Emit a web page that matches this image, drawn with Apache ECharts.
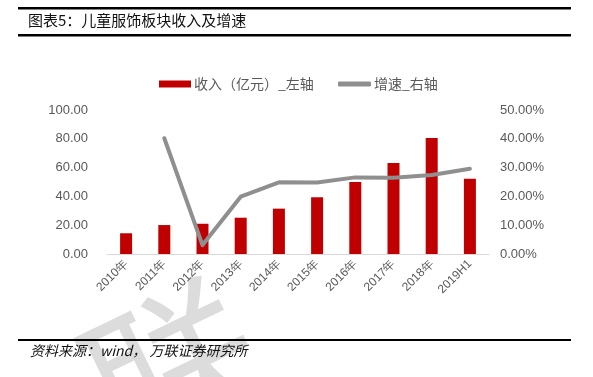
<!DOCTYPE html>
<html>
<head>
<meta charset="utf-8">
<script src="https://cdn.jsdelivr.net/npm/echarts@6/dist/echarts.min.js"></script>
<style>
  html, body { margin: 0; padding: 0; background: #fff; }
  #main { width: 593px; height: 377px; }
</style>
</head>
<body>
<div id="main"></div>
<script>
// 类目
const years = ['2010年', '2011年', '2012年', '2013年', '2014年', '2015年', '2016年', '2017年', '2018年', '2019H1']
// 收入（亿元）
const revenue = [14.4, 20.1, 21.0, 25.2, 31.5, 39.4, 50.0, 63.2, 80.5, 52.3]
// 增速 %
const growth = [null, 40.2, 3.1, 19.9, 24.9, 24.8, 26.6, 26.5, 27.4, 29.6]

const barName = '收入（亿元）_左轴'
const lineName = '增速_右轴'

const cjk = '"Noto Sans CJK SC", sans-serif'
const latin = '"Liberation Sans", Arial, sans-serif'

const chart = echarts.init(document.getElementById('main'), null, { renderer: 'canvas' })

const option = {
  backgroundColor: '#fff',
  animation: false,
  graphic: [
    // 水印
    {
      type: 'text', left: 60, top: 255, rotation: 0.45, z: -10, silent: true,
      style: { text: '联', fontSize: 170, fontFamily: cjk, fill: '#dcdcdc' }
    },
    { type: 'rect', shape: { x: 18, y: 7, width: 553, height: 2.5 }, style: { fill: '#000' } },
    { type: 'rect', shape: { x: 18, y: 34, width: 553, height: 2.5 }, style: { fill: '#000' } },
    { type: 'rect', shape: { x: 18, y: 339, width: 553, height: 2 }, style: { fill: '#000' } },
    {
      type: 'text', left: 28, top: 13,
      style: { text: '图表5：儿童服饰板块收入及增速', fontSize: 15, fontFamily: cjk, fill: '#111' }
    },
    {
      type: 'text', left: 30, top: 344,
      style: { text: '资料来源：wind， 万联证券研究所', fontSize: 14, fontStyle: 'italic', fontFamily: cjk, fill: '#111' }
    }
  ],
  legend: [
    {
      data: [{ name: barName, icon: 'rect' }],
      left: 154, top: 72,
      itemWidth: 32, itemHeight: 7,
      textStyle: { fontSize: 14, fontFamily: cjk, color: '#595959', padding: [0, 0, 0, -2] }
    },
    {
      data: [{ name: lineName, icon: 'roundRect' }],
      left: 333, top: 72,
      itemWidth: 33, itemHeight: 5,
      textStyle: { fontSize: 14, fontFamily: cjk, color: '#595959', padding: [0, 0, 0, -2] }
    }
  ],
  grid: {
    left: 107,
    right: 104,
    top: 110,
    bottom: 123,
    containLabel: false
  },
  xAxis: [
    {
      type: 'category',
      data: years,
      axisTick: { show: false },
      axisLine: { lineStyle: { color: '#d9d9d9', width: 1 } },
      axisLabel: {
        interval: 0,
        rotate: 45,
        margin: 8,
        fontSize: 12,
        fontFamily: latin,
        color: '#595959'
      }
    }
  ],
  yAxis: [
    {
      type: 'value',
      min: 0, max: 100, interval: 20,
      splitLine: { show: false },
      axisLine: { show: false },
      axisTick: { show: false },
      axisLabel: {
        margin: 19,
        fontSize: 13,
        fontFamily: latin,
        color: '#595959',
        formatter: function (v) { return v.toFixed(2) }
      }
    },
    {
      type: 'value',
      min: 0, max: 50, interval: 10,
      splitLine: { show: false },
      axisLine: { show: false },
      axisTick: { show: false },
      axisLabel: {
        margin: 11,
        fontSize: 13,
        fontFamily: latin,
        color: '#595959',
        formatter: function (v) { return v.toFixed(2) + '%' }
      }
    }
  ],
  series: [
    {
      name: barName,
      type: 'bar',
      yAxisIndex: 0,
      barWidth: 12,
      itemStyle: { color: '#c00000' },
      data: revenue
    },
    {
      name: lineName,
      type: 'line',
      yAxisIndex: 1,
      symbol: 'none',
      lineStyle: { color: '#8f8f8f', width: 4, cap: 'round', join: 'round' },
      itemStyle: { color: '#8f8f8f' },
      data: growth
    }
  ]
}

chart.setOption(option)
</script>
</body>
</html>
